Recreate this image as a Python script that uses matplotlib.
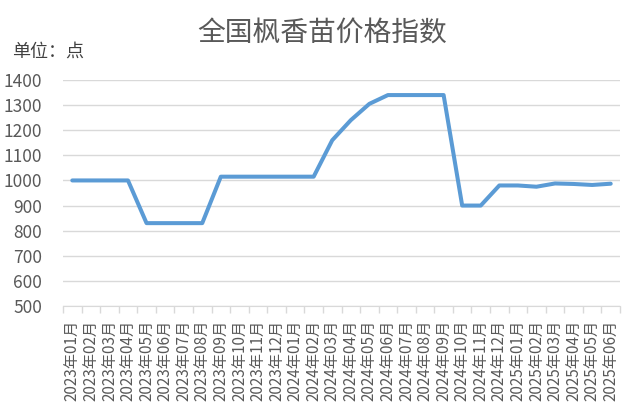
import matplotlib.pyplot as plt
import numpy as np

plt.rcParams['font.family'] = ['Noto Sans CJK SC', 'DejaVu Sans']

# month labels 2023-01 .. 2025-06
months = [f"{y}年{m:02d}月" for y in (2023, 2024, 2025) for m in range(1, 13)][:30]
index_vals = [1000, 1000, 1000, 1000, 830, 830, 830, 830,
              1015, 1015, 1015, 1015, 1015, 1015,
              1160, 1240, 1305, 1340, 1340, 1340, 1340,
              900, 900, 980, 980, 975, 988, 986, 982, 987]
y_ticks = list(range(500, 1401, 100))

fig = plt.figure(figsize=(6.44, 4.17), dpi=100)
ax = fig.add_axes([63 / 644, 1 - 306 / 417, 557 / 644, 226 / 417])

x = np.arange(len(months))
ax.plot(x, index_vals, color='#5B9BD5', linewidth=2.9, solid_joinstyle='round',
        solid_capstyle='round')

ax.set_xlim(-0.5, len(months) - 0.5)
ax.set_ylim(500, 1400)
ax.set_yticks(y_ticks)
ax.set_yticklabels([str(v) for v in y_ticks], fontsize=12.5, color='#595959')
ax.grid(axis='y', color='#D9D9D9', linewidth=1)
ax.set_axisbelow(True)

ax.set_xticks(x)
ax.set_xticklabels(months, rotation=90, fontsize=11, color='#595959',
                   ha='center', va='top')
ax.set_xticks(np.arange(-0.5, len(months), 1), minor=True)
ax.tick_params(axis='x', which='major', length=0, pad=10)
ax.tick_params(axis='x', which='minor', length=5, color='#D9D9D9', width=1)
ax.tick_params(axis='y', length=0, pad=15)

for s in ['top', 'right', 'left']:
    ax.spines[s].set_visible(False)
ax.spines['bottom'].set_color('#D9D9D9')

fig.text(322 / 644, 1 - 33 / 417, '全国枫香苗价格指数', fontsize=20,
         color='#595959', ha='center', va='center')
fig.text(12 / 644, 1 - 52 / 417, '单位：点', fontsize=13,
         color='#404040', ha='left', va='center')

fig.savefig('out.png', dpi=100)
